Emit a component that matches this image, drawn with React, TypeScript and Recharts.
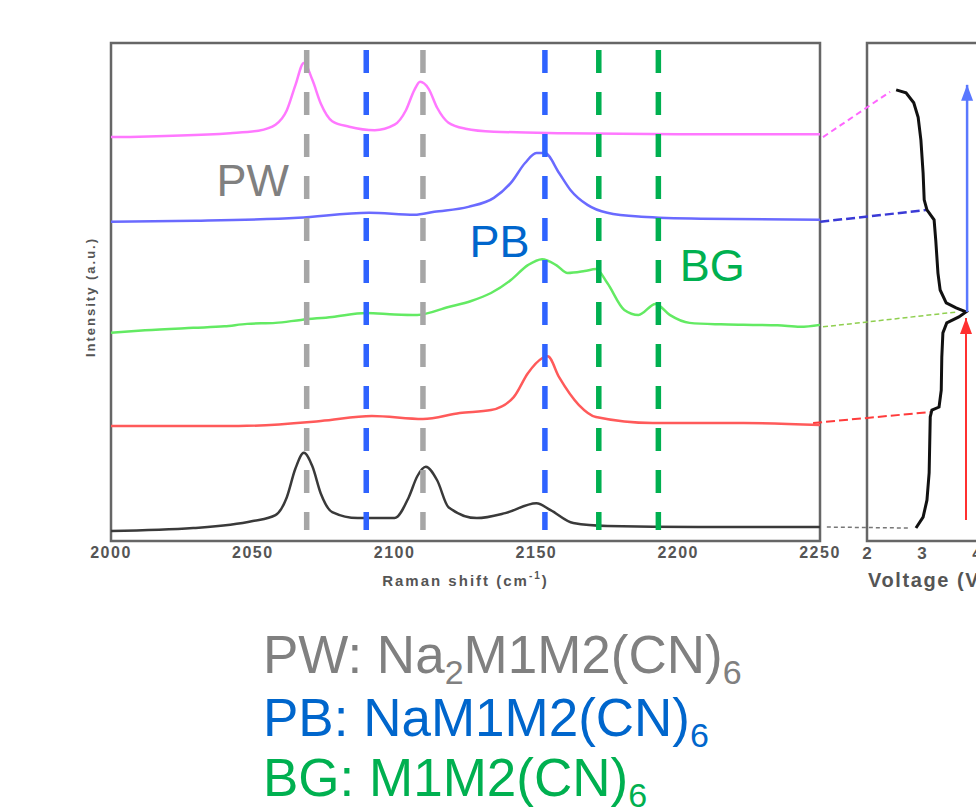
import React from "react";
import {
  ComposedChart,
  Line,
  XAxis,
  YAxis,
  ReferenceLine,
  ReferenceArea,
  ReferenceDot,
} from "recharts";

// Raman shift axis
const ramanTicks = [2000, 2050, 2100, 2150, 2200, 2250];
const ramanMinorTicks = [2000, 2025, 2050, 2075, 2100, 2125, 2150, 2175, 2200, 2225, 2250];

// stacked spectra, intensity in arbitrary units (offset)
const pinkSpectrum = [
  { x: 2000, y: 81.1 }, { x: 2042, y: 81.9 }, { x: 2052, y: 82.4 }, { x: 2058, y: 83.6 },
  { x: 2062, y: 86.5 }, { x: 2065, y: 91.5 }, { x: 2068, y: 96.0 }, { x: 2071, y: 92.6 },
  { x: 2074, y: 87.8 }, { x: 2078, y: 84.3 }, { x: 2084, y: 83.2 }, { x: 2093, y: 82.5 },
  { x: 2100, y: 83.6 }, { x: 2104, y: 86.5 }, { x: 2107, y: 90.6 }, { x: 2109, y: 92.2 },
  { x: 2112, y: 90.8 }, { x: 2115, y: 87.0 }, { x: 2119, y: 84.0 }, { x: 2125, y: 82.8 },
  { x: 2135, y: 82.2 }, { x: 2160, y: 81.9 }, { x: 2200, y: 81.7 }, { x: 2250, y: 81.7 },
];
const blueSpectrum = [
  { x: 2000, y: 64.1 }, { x: 2030, y: 64.3 }, { x: 2066, y: 64.9 }, { x: 2091, y: 65.9 },
  { x: 2107, y: 65.5 }, { x: 2114, y: 66.1 }, { x: 2126, y: 67.1 }, { x: 2135, y: 68.9 },
  { x: 2141, y: 71.9 }, { x: 2146, y: 75.9 }, { x: 2150, y: 77.9 }, { x: 2153, y: 77.9 },
  { x: 2158, y: 73.9 }, { x: 2162, y: 70.5 }, { x: 2168, y: 67.5 }, { x: 2175, y: 65.9 },
  { x: 2187, y: 65.1 }, { x: 2208, y: 64.7 }, { x: 2250, y: 64.5 },
];
const greenSpectrum = [
  { x: 2000, y: 41.8 }, { x: 2012, y: 42.3 }, { x: 2029, y: 42.8 }, { x: 2040, y: 43.1 },
  { x: 2048, y: 43.6 }, { x: 2058, y: 43.8 }, { x: 2067, y: 44.4 }, { x: 2078, y: 45.0 },
  { x: 2090, y: 45.8 }, { x: 2100, y: 45.5 }, { x: 2108, y: 45.4 }, { x: 2119, y: 47.0 },
  { x: 2127, y: 48.2 }, { x: 2134, y: 49.8 }, { x: 2141, y: 52.4 }, { x: 2147, y: 55.4 },
  { x: 2152, y: 56.6 }, { x: 2157, y: 55.4 }, { x: 2161, y: 53.8 }, { x: 2167, y: 54.2 },
  { x: 2171, y: 54.6 }, { x: 2175, y: 51.8 }, { x: 2181, y: 46.4 }, { x: 2186, y: 45.4 },
  { x: 2192, y: 47.6 }, { x: 2197, y: 45.4 }, { x: 2204, y: 43.8 }, { x: 2215, y: 43.5 },
  { x: 2223, y: 43.4 }, { x: 2235, y: 43.3 }, { x: 2243, y: 43.0 }, { x: 2250, y: 43.4 },
];
const redSpectrum = [
  { x: 2000, y: 23.1 }, { x: 2045, y: 23.1 }, { x: 2074, y: 24.1 }, { x: 2092, y: 25.1 },
  { x: 2110, y: 24.5 }, { x: 2123, y: 25.7 }, { x: 2134, y: 26.3 }, { x: 2142, y: 28.9 },
  { x: 2147, y: 33.7 }, { x: 2152, y: 36.7 }, { x: 2154, y: 37.1 }, { x: 2158, y: 32.9 },
  { x: 2165, y: 27.3 }, { x: 2171, y: 24.9 }, { x: 2191, y: 23.7 }, { x: 2223, y: 23.7 },
  { x: 2250, y: 23.3 },
];
const blackSpectrum = [
  { x: 2000, y: 2.0 }, { x: 2029, y: 2.6 }, { x: 2050, y: 4.0 }, { x: 2058, y: 5.2 },
  { x: 2062, y: 8.8 }, { x: 2065, y: 14.5 }, { x: 2068, y: 17.7 }, { x: 2071, y: 15.0 },
  { x: 2074, y: 9.5 }, { x: 2078, y: 5.8 }, { x: 2087, y: 4.6 }, { x: 2100, y: 4.6 },
  { x: 2105, y: 8.8 }, { x: 2108, y: 13.0 }, { x: 2111, y: 14.9 }, { x: 2115, y: 12.2 },
  { x: 2119, y: 6.8 }, { x: 2129, y: 4.6 }, { x: 2139, y: 5.6 }, { x: 2150, y: 7.6 },
  { x: 2155, y: 6.2 }, { x: 2163, y: 3.6 }, { x: 2175, y: 3.0 }, { x: 2207, y: 2.8 },
  { x: 2250, y: 2.8 },
];

// marker positions (cm-1)
const pwPeaks = [2069, 2110];
const pbPeaks = [2090, 2153];
const bgPeaks = [2172, 2193];
const markerSpan = [98.6, 2.2];

const phaseLabels = [
  { text: "PW", x: 2050, y: 72.5 },
  { text: "PB", x: 2137, y: 60.2 },
  { text: "BG", x: 2212, y: 55.4 },
];

// voltage profile (V vs. stacked position)
const voltageTicks = [2, 3, 4, 5];
const voltageMinorTicks = [2, 2.5, 3, 3.5, 4, 4.5, 5];
const voltageCurve = [
  { v: 2.53, y: 90.6 }, { v: 2.71, y: 90.0 }, { v: 2.85, y: 88.0 }, { v: 2.93, y: 85.1 },
  { v: 2.98, y: 80.5 }, { v: 3.02, y: 73.9 }, { v: 3.04, y: 68.5 }, { v: 3.09, y: 66.5 },
  { v: 3.22, y: 64.5 }, { v: 3.25, y: 60.4 }, { v: 3.29, y: 53.8 }, { v: 3.33, y: 50.4 },
  { v: 3.44, y: 47.8 }, { v: 3.62, y: 46.8 }, { v: 3.8, y: 46.0 }, { v: 3.67, y: 45.0 },
  { v: 3.45, y: 43.8 }, { v: 3.38, y: 41.8 }, { v: 3.36, y: 36.9 }, { v: 3.35, y: 30.3 },
  { v: 3.31, y: 26.9 }, { v: 3.18, y: 26.3 }, { v: 3.15, y: 24.9 }, { v: 3.13, y: 13.7 },
  { v: 3.09, y: 8.2 }, { v: 3.02, y: 4.8 }, { v: 2.89, y: 2.6 },
];
const chargeArrow = [{ v: 3.8, y: 4.2 }, { v: 3.8, y: 44.8 }];
const fullArrow = [{ v: 3.82, y: 46.0 }, { v: 3.82, y: 91.6 }];

// links from spectrum ends to the curve
const pinkLink = [{ x: 1.2, y: 81.1 }, { x: 2.42, y: 90.2 }];
const blueLink = [{ x: 1.15, y: 64.1 }, { x: 3.11, y: 66.5 }];
const greenLink = [{ x: 1.2, y: 43.0 }, { x: 3.64, y: 46.0 }];
const redLink = [{ x: 1.02, y: 23.7 }, { x: 3.15, y: 25.9 }];
const blackLink = [{ x: 1.27, y: 2.8 }, { x: 2.78, y: 2.6 }];

const axisText = "#555";
const frame = "#666";
const noTick = () => <g />;

function RamanTitle({ viewBox }: any) {
  const cx = viewBox.x + viewBox.width / 2;
  const y = viewBox.y + viewBox.height + 5;
  return (
    <text x={cx} y={y} textAnchor="middle" fontSize={15} fontWeight={700} fill={axisText} letterSpacing={2}>
      Raman shift (cm
      <tspan fontSize={10} dy={-7}>-1</tspan>
      <tspan dy={7}>)</tspan>
    </text>
  );
}

function IntensityTitle({ viewBox }: any) {
  const x = viewBox.x + 14;
  const y = viewBox.y + viewBox.height / 2 + 5;
  return (
    <text x={x} y={y} textAnchor="middle" fontSize={13} fontWeight={700} fill={axisText} letterSpacing={2} transform={`rotate(-90 ${x} ${y})`}>
      Intensity (a.u.)
    </text>
  );
}

function VoltageTitle({ viewBox }: any) {
  return (
    <text x={viewBox.x + 1} y={viewBox.y + viewBox.height + 6} fontSize={20} fontWeight={700} fill={axisText} letterSpacing={1.6}>
      Voltage (V)
    </text>
  );
}

function arrowHead(color: string) {
  return (p: any) => {
    if (p.index !== 1) return <g key={`a-${p.index}`} />;
    return (
      <polygon
        key={`a-${p.index}`}
        points={`${p.cx},${p.cy} ${p.cx - 6},${p.cy + 16} ${p.cx + 6},${p.cy + 16}`}
        fill={color}
      />
    );
  };
}

function RamanChart() {
  const spectrum = { type: "monotone" as const, dataKey: "y", dot: false, strokeWidth: 2.5, isAnimationActive: false };
  const marker = (x: number, color: string) => (
    <ReferenceLine
      key={`m-${x}`}
      segment={[{ x, y: markerSpan[0] }, { x, y: markerSpan[1] }]}
      stroke={color}
      strokeWidth={5.5}
      strokeDasharray="23 19"
      ifOverflow="visible"
    />
  );
  return (
    <ComposedChart width={850} height={600} margin={{ top: 43, right: 30, bottom: 19, left: 81 }}>
      <XAxis
        type="number"
        dataKey="x"
        domain={[2000, 2250]}
        ticks={ramanTicks}
        tickLine={false}
        axisLine={false}
        tickSize={0}
        tickMargin={6}
        height={40}
        tick={{ fontSize: 16, fill: axisText, fontWeight: 700, letterSpacing: 1.5 }}
        label={(p: any) => <RamanTitle {...p} />}
      />
      <XAxis
        xAxisId="minor"
        type="number"
        domain={[2000, 2250]}
        ticks={ramanMinorTicks}
        mirror
        height={0}
        axisLine={false}
        tickSize={4}
        tickLine={{ stroke: "#333", strokeWidth: 1.5 }}
        tick={noTick}
      />
      <YAxis
        type="number"
        domain={[0, 100]}
        width={30}
        tick={false}
        tickLine={false}
        axisLine={false}
        label={(p: any) => <IntensityTitle {...p} />}
      />
      <Line {...spectrum} data={pinkSpectrum} stroke="#ff78ff" />
      <Line {...spectrum} data={blueSpectrum} stroke="#6a6aff" />
      <Line {...spectrum} data={greenSpectrum} stroke="#63ea63" />
      <Line {...spectrum} data={redSpectrum} stroke="#ff5a5a" />
      <Line {...spectrum} data={blackSpectrum} stroke="#3a3a3a" />
      {pwPeaks.map((x) => marker(x, "#a6a6a6"))}
      {pbPeaks.map((x) => marker(x, "#2f63ff"))}
      {bgPeaks.map((x) => marker(x, "#00b050"))}
      <ReferenceArea x1={2000} x2={2250} y1={0} y2={100} fill="none" stroke={frame} strokeWidth={2.5} ifOverflow="visible" />
      {phaseLabels.map((l, i) => (
        <ReferenceDot
          key={l.text}
          x={l.x}
          y={l.y}
          r={0}
          stroke="none"
          fill="none"
          label={{
            value: l.text,
            position: "center",
            fontSize: 45,
            fill: ["#808080", "#0066cc", "#00b050"][i],
          }}
        />
      ))}
    </ComposedChart>
  );
}

function VoltageChart() {
  const link = (seg: { x: number; y: number }[], color: string, dash: string, w: number) => (
    <ReferenceLine segment={seg} stroke={color} strokeWidth={w} strokeDasharray={dash} ifOverflow="visible" />
  );
  return (
    <ComposedChart width={260} height={600} margin={{ top: 43, right: 28, bottom: 19, left: 67 }}>
      <XAxis
        type="number"
        dataKey="v"
        domain={[2, 5]}
        ticks={voltageTicks}
        tickLine={false}
        axisLine={false}
        tickSize={0}
        tickMargin={6}
        height={40}
        tick={{ fontSize: 17, fill: axisText, fontWeight: 700 }}
        label={(p: any) => <VoltageTitle {...p} />}
      />
      <XAxis
        xAxisId="minorB"
        type="number"
        domain={[2, 5]}
        ticks={voltageMinorTicks}
        mirror
        height={0}
        axisLine={false}
        tickSize={4}
        tickLine={{ stroke: "#333", strokeWidth: 1.5 }}
        tick={noTick}
      />
      <XAxis
        xAxisId="minorT"
        orientation="top"
        type="number"
        domain={[2, 5]}
        ticks={voltageMinorTicks}
        mirror
        height={0}
        axisLine={false}
        tickSize={4}
        tickLine={{ stroke: "#333", strokeWidth: 1.5 }}
        tick={noTick}
      />
      <YAxis type="number" domain={[0, 100]} hide />
      {link(pinkLink, "#ff66ff", "6 4", 2)}
      {link(blueLink, "#3a3ad6", "9 4", 2.5)}
      {link(greenLink, "#8fcf4f", "5 3", 1.5)}
      {link(redLink, "#ff3b3b", "9 4", 2)}
      {link(blackLink, "#777", "4 3", 1.5)}
      <Line data={voltageCurve} dataKey="y" type="linear" stroke="#111" strokeWidth={3} dot={false} isAnimationActive={false} />
      <Line data={fullArrow} dataKey="y" type="linear" stroke="#5a78ff" strokeWidth={2.5} dot={arrowHead("#5a78ff")} isAnimationActive={false} />
      <Line data={chargeArrow} dataKey="y" type="linear" stroke="#ff3030" strokeWidth={2} dot={arrowHead("#ff3030")} isAnimationActive={false} />
      <ReferenceArea x1={2} x2={5} y1={0} y2={100} fill="none" stroke={frame} strokeWidth={2.5} ifOverflow="visible" />
    </ComposedChart>
  );
}

function Formulas() {
  const sub = { fontSize: 34, dy: 11 };
  return (
    <svg width={976} height={209} style={{ position: "absolute", left: 0, top: 600 }}>
      <text x={263} y={73} fontSize={53} fill="#808080">
        PW: Na<tspan {...sub}>2</tspan>
        <tspan dy={-11}>M1M2(CN)</tspan>
        <tspan {...sub}>6</tspan>
      </text>
      <text x={263} y={136} fontSize={53} fill="#0066cc">
        PB: NaM1M2(CN)<tspan {...sub}>6</tspan>
      </text>
      <text x={263} y={196} fontSize={53} fill="#00b050">
        BG: M1M2(CN)<tspan {...sub}>6</tspan>
      </text>
    </svg>
  );
}

export default function App() {
  return (
    <div
      style={{
        position: "absolute",
        left: 0,
        top: 0,
        width: 976,
        height: 809,
        overflow: "hidden",
        background: "#fff",
        fontFamily: '"Liberation Sans", Arial, sans-serif',
      }}
    >
      <div style={{ position: "absolute", left: 0, top: 0 }}>
        <RamanChart />
      </div>
      <div style={{ position: "absolute", left: 800, top: 0 }}>
        <VoltageChart />
      </div>
      <Formulas />
    </div>
  );
}
